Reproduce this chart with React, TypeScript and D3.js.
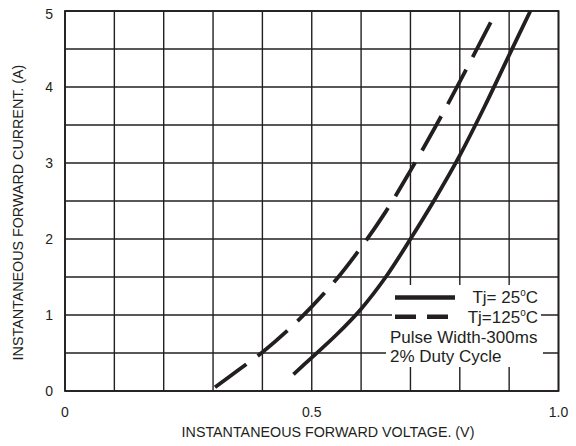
import React from 'react';
import * as d3 from 'd3';

// Data
const voltageGrid = [0, 0.1, 0.2, 0.3, 0.4, 0.5, 0.6, 0.7, 0.8, 0.9, 1.0];
const currentGrid = [0, 0.5, 1, 1.5, 2, 2.5, 3, 3.5, 4, 4.5, 5];
const voltageTicks = [0, 0.5, 1.0];
const voltageTickLabels = ['0', '0.5', '1.0'];
const currentTicks = [0, 1, 2, 3, 4, 5];
const currentTickLabels = ['0', '1', '2', '3', '4', '5'];

// Tj = 25°C (solid)
const v25 = [0.463, 0.5, 0.55, 0.6, 0.65, 0.7, 0.75, 0.8, 0.85, 0.9, 0.943];
const i25 = [0.22, 0.44, 0.74, 1.08, 1.5, 2.0, 2.53, 3.1, 3.74, 4.42, 5.0];

// Tj = 125°C (dashed)
const v125 = [0.304, 0.35, 0.4, 0.45, 0.5, 0.55, 0.6, 0.65, 0.7, 0.75, 0.8, 0.865];
const i125 = [0.05, 0.27, 0.51, 0.79, 1.11, 1.47, 1.89, 2.36, 2.9, 3.47, 4.07, 4.88];

const xTitle = 'INSTANTANEOUS FORWARD VOLTAGE. (V)';
const yTitle = 'INSTANTANEOUS FORWARD CURRENT. (A)';
const legendNote1 = 'Pulse Width-300ms';
const legendNote2 = '2% Duty Cycle';

const INK = '#231f20';
const FONT = '"Liberation Sans", Arial, Helvetica, sans-serif';

export default function App() {
  const x = d3.scaleLinear().domain([0, 1]).range([65, 558.5]);
  const y = d3.scaleLinear().domain([0, 5]).range([391, 11]);

  const line = d3
    .line<[number, number]>()
    .x((d) => x(d[0]))
    .y((d) => y(d[1]))
    .curve(d3.curveCatmullRom.alpha(0.5));

  const solidPts = v25.map((v, k) => [v, i25[k]] as [number, number]);
  const dashPts = v125.map((v, k) => [v, i125[k]] as [number, number]);

  return (
    <svg
      width={576}
      height={446}
      style={{ position: 'absolute', left: 0, top: 0, background: '#fff' }}
      fontFamily={FONT}
    >
      <rect x={0} y={0} width={576} height={446} fill="#fff" />
      {/* grid */}
      {voltageGrid.map((v) => (
        <line key={'gv' + v} x1={x(v)} x2={x(v)} y1={y(0)} y2={y(5)} stroke={INK} strokeWidth={1.4} />
      ))}
      {currentGrid.map((c) => (
        <line key={'gc' + c} x1={x(0)} x2={x(1)} y1={y(c)} y2={y(c)} stroke={INK} strokeWidth={1.4} />
      ))}
      <rect x={x(0)} y={y(5)} width={x(1) - x(0)} height={y(0) - y(5)} fill="none" stroke={INK} strokeWidth={1.8} />

      {/* curves */}
      <path d={line(solidPts) || ''} fill="none" stroke={INK} strokeWidth={3.8} />
      <path d={line(dashPts) || ''} fill="none" stroke={INK} strokeWidth={3.8} strokeDasharray="39 14" />

      {/* legend background */}
      <rect x={392} y={285} width={149} height={46} fill="#fff" />
      <rect x={386} y={330} width={157} height={37} fill="#fff" />
      <line x1={395} x2={455} y1={297.5} y2={297.5} stroke={INK} strokeWidth={4.5} />
      <line x1={395} x2={448} y1={316.7} y2={316.7} stroke={INK} strokeWidth={4.5} strokeDasharray="21 11" />
      <text x={538} y={303} textAnchor="end" fontSize={17} fill={INK}>
        Tj= 25<tspan fontSize={10} dy={-7}>o</tspan>
        <tspan dy={7}>C</tspan>
      </text>
      <text x={538} y={323} textAnchor="end" fontSize={17} fill={INK}>
        Tj=125<tspan fontSize={10} dy={-7}>o</tspan>
        <tspan dy={7}>C</tspan>
      </text>
      <text x={390} y={343} fontSize={17} fill={INK}>{legendNote1}</text>
      <text x={390} y={362} fontSize={17} fill={INK}>{legendNote2}</text>

      {/* y tick labels */}
      {currentTicks.map((c, k) => (
        <text key={'yt' + c} x={53} y={y(c) + 5 + (c === 5 ? 3 : 0)} textAnchor="end" fontSize={14} fill={INK}>
          {currentTickLabels[k]}
        </text>
      ))}
      {/* x tick labels */}
      {voltageTicks.map((v, k) => (
        <text key={'xt' + v} x={x(v)} y={417} textAnchor="middle" fontSize={14} fill={INK}>
          {voltageTickLabels[k]}
        </text>
      ))}

      {/* axis titles */}
      <text x={328} y={437} textAnchor="middle" fontSize={14.3} fill={INK}>{xTitle}</text>
      <text
        transform={`translate(22.5, 212.5) rotate(-90)`}
        textAnchor="middle"
        fontSize={14.3}
        fill={INK}
      >
        {yTitle}
      </text>
    </svg>
  );
}
